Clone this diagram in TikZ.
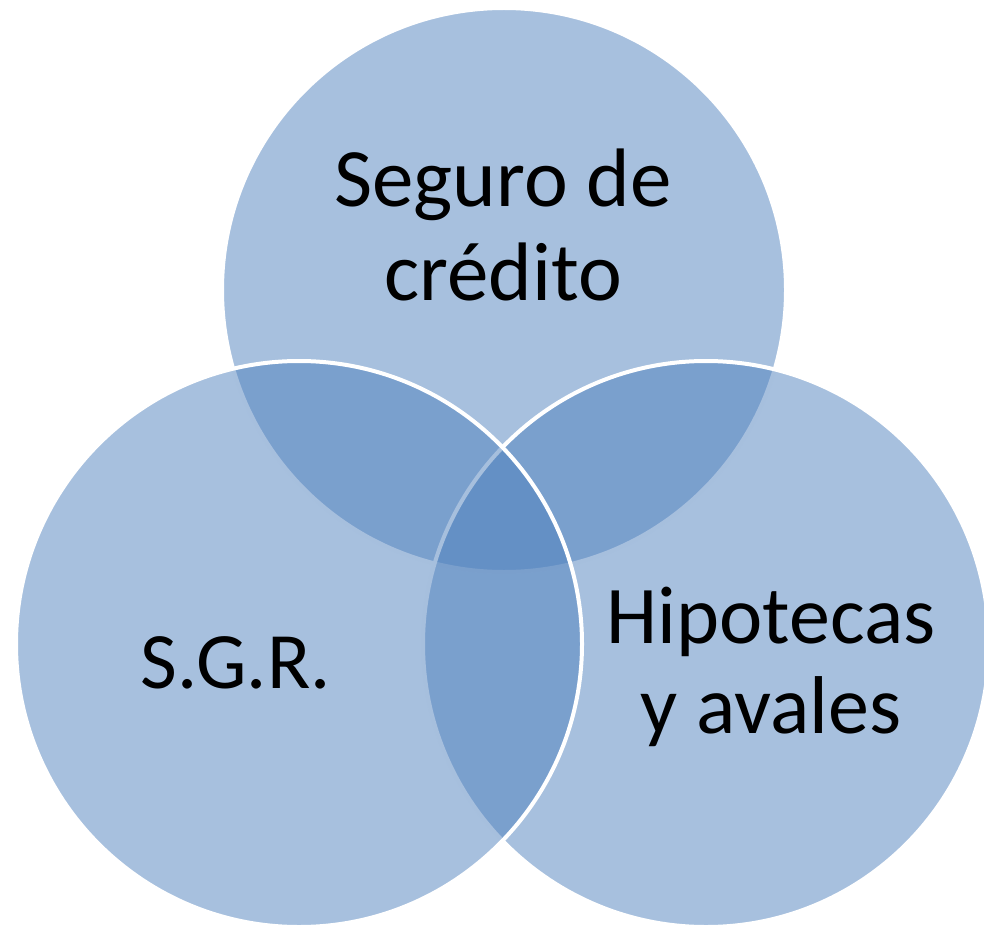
\documentclass[tikz,border=0pt]{standalone}
\usepackage{fontspec}
\setmainfont{Carlito}
\definecolor{vennblue}{HTML}{4F81BD}
\begin{document}
\begin{tikzpicture}[x=1pt,y=-1pt,
  venn/.style={fill=vennblue,fill opacity=0.5,draw=white,draw opacity=1,line width=4pt},
  lbl/.style={align=center,text=black,inner sep=0pt,anchor=base}]
\useasboundingbox (0,0) rectangle (984,928);
\clip (0,0) rectangle (984,928);
\path[venn] (504,290) circle[radius=282];
\path[venn] (706,644) circle[radius=283];
\path[venn] (299,644) circle[radius=283];
\node[lbl,font=\fontsize{83}{94}\selectfont] (top) at (503,300) {Seguro de\\crédito};
\node[lbl,font=\fontsize{82}{90}\selectfont] (right) at (771,733) {Hipotecas\\y avales};
\node[lbl,font=\fontsize{80}{90}\selectfont] (left) at (236,688) {S.G.R.};
\end{tikzpicture}
\end{document}
